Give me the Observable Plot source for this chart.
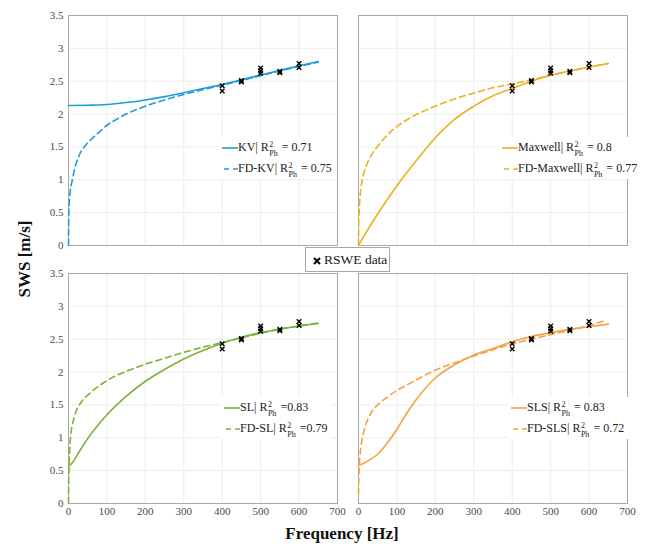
<!DOCTYPE html>
<html>
<head>
<meta charset="utf-8">
<script src="https://cdn.jsdelivr.net/npm/d3@7"></script>
<script src="https://cdn.jsdelivr.net/npm/@observablehq/plot@0.6"></script>
<style>
  body { margin: 0; background: #fff; }
  #wrap { position: relative; width: 645px; height: 544px; font-family: "Liberation Serif", "Times New Roman", serif; }
  .leg { position: absolute; background: #fff; font-family: "Liberation Serif", serif; font-size: 12px; color: #222; line-height: 21px; padding: 0 4px 0 3px; }
  .row { white-space: nowrap; height: 21px; }
  .row svg { vertical-align: middle; }
  .ss { display: inline-block; font-size: 8px; line-height: 9.5px; vertical-align: -5.5px; margin-left: 0.5px; margin-right: 1px; }
  .ss span { display: block; }
  #rswe { position: absolute; left: 305px; top: 247px; width: 85px; height: 25px; border: 1px solid #a8a8a8; background: #fff;
          font-family: "Liberation Serif", serif; font-size: 13.5px; color: #1a1a1a; line-height: 23px; box-sizing: border-box; white-space: nowrap; }
  #rswe svg { vertical-align: middle; margin: 0 3px 0 7px; }
</style>
</head>
<body>
<div id="wrap"></div>
<script>
// ---------------- data ----------------
const xTicks = [0, 100, 200, 300, 400, 500, 600, 700];
const yTicks = [0, 0.5, 1, 1.5, 2, 2.5, 3, 3.5];
const gridX = [100, 200, 300, 400, 500, 600];
const gridY = [0.5, 1, 1.5, 2, 2.5, 3];

// RSWE measurements
const rsweF = [400, 400, 450, 450, 500, 500, 500, 550, 550, 600, 600];
const rsweV = [2.35, 2.43, 2.49, 2.51, 2.62, 2.66, 2.70, 2.63, 2.65, 2.71, 2.77];

// KV (top-left)
const kvF = [0, 50, 100, 150, 200, 250, 300, 350, 400, 450, 500, 550, 600, 650];
const kvV = [2.13, 2.135, 2.145, 2.175, 2.215, 2.265, 2.325, 2.39, 2.45, 2.52, 2.595, 2.665, 2.735, 2.80];
const fdkvF = [0, 0.5, 1, 2, 4, 7, 10, 15, 20, 25, 30, 40, 50, 60, 75, 100, 125, 150, 200, 250, 300, 350, 400, 450, 500, 550, 600, 650];
const fdkvV = [0, 0.4, 0.52, 0.65, 0.8, 0.92, 1.0, 1.14, 1.25, 1.33, 1.40, 1.49, 1.56, 1.62, 1.70, 1.83, 1.92, 2.0, 2.12, 2.215, 2.30, 2.37, 2.44, 2.51, 2.585, 2.655, 2.725, 2.79];

// Maxwell (top-right)
const mxF = [0, 25, 50, 75, 100, 150, 200, 250, 300, 350, 400, 450, 500, 550, 600, 650];
const mxV = [0, 0.25, 0.48, 0.70, 0.91, 1.29, 1.64, 1.92, 2.12, 2.28, 2.39, 2.50, 2.59, 2.655, 2.715, 2.77];
const fdmxF = [0, 0.5, 1, 3, 6, 10, 15, 20, 25, 35, 50, 75, 100, 125, 150, 200, 250, 300, 350, 400, 450, 500, 550, 600, 650];
const fdmxV = [0, 0.3, 0.4, 0.66, 0.86, 1.0, 1.12, 1.21, 1.28, 1.39, 1.51, 1.68, 1.81, 1.91, 1.99, 2.12, 2.23, 2.32, 2.40, 2.46, 2.52, 2.59, 2.655, 2.715, 2.77];

// SL (bottom-left)
const slF = [0, 5, 10, 25, 50, 75, 100, 150, 200, 250, 300, 350, 400, 450, 500, 550, 600, 650];
const slV = [0.57, 0.59, 0.62, 0.76, 0.99, 1.18, 1.35, 1.63, 1.86, 2.04, 2.20, 2.33, 2.44, 2.53, 2.60, 2.655, 2.70, 2.74];
const fdslF = [0, 0.5, 1, 3, 6, 10, 15, 20, 25, 35, 50, 75, 100, 125, 150, 200, 250, 300, 350, 400, 450, 500, 550, 600, 650];
const fdslV = [0, 0.32, 0.45, 0.8, 1.05, 1.2, 1.32, 1.41, 1.47, 1.56, 1.65, 1.77, 1.87, 1.95, 2.01, 2.12, 2.21, 2.30, 2.38, 2.45, 2.52, 2.59, 2.65, 2.70, 2.75];

// SLS (bottom-right)
const slsF = [0, 10, 25, 50, 75, 100, 125, 150, 200, 250, 300, 350, 400, 450, 500, 550, 600, 650];
const slsV = [0.58, 0.60, 0.65, 0.75, 0.92, 1.13, 1.37, 1.58, 1.91, 2.11, 2.26, 2.36, 2.46, 2.54, 2.60, 2.65, 2.69, 2.73];
const fdslsF = [0, 1, 3, 6, 10, 15, 20, 25, 35, 50, 75, 100, 125, 150, 200, 250, 300, 350, 400, 450, 500, 550, 600, 640];
const fdslsV = [0.14, 0.4, 0.65, 0.85, 1.0, 1.12, 1.22, 1.29, 1.40, 1.50, 1.62, 1.72, 1.80, 1.88, 2.03, 2.14, 2.245, 2.34, 2.43, 2.50, 2.57, 2.635, 2.71, 2.78];

const colors = { KV: "#1f9cd8", Maxwell: "#edb120", SL: "#7ab33c", SLS: "#f6a146" };

const series = [
  { name: "KV", model: "KV", col: "L", row: "T", dash: false, f: kvF, v: kvV, r2: "0.71", eq: " = " },
  { name: "FD-KV", model: "KV", col: "L", row: "T", dash: true, f: fdkvF, v: fdkvV, r2: "0.75", eq: " = " },
  { name: "Maxwell", model: "Maxwell", col: "R", row: "T", dash: false, f: mxF, v: mxV, r2: "0.8", eq: " = " },
  { name: "FD-Maxwell", model: "Maxwell", col: "R", row: "T", dash: true, f: fdmxF, v: fdmxV, r2: "0.77", eq: " = " },
  { name: "SL", model: "SL", col: "L", row: "B", dash: false, f: slF, v: slV, r2: "0.83", eq: " =" },
  { name: "FD-SL", model: "SL", col: "L", row: "B", dash: true, f: fdslF, v: fdslV, r2: "0.79", eq: " =" },
  { name: "SLS", model: "SLS", col: "R", row: "B", dash: false, f: slsF, v: slsV, r2: "0.83", eq: " = " },
  { name: "FD-SLS", model: "SLS", col: "R", row: "B", dash: true, f: fdslsF, v: fdslsV, r2: "0.72", eq: " = " }
];

const rows = series.flatMap(s => s.f.map((f, i) => ({ f, v: s.v[i], name: s.name, col: s.col, row: s.row, color: colors[s.model], dash: s.dash })));
const rswe = rsweF.map((f, i) => ({ f, v: rsweV[i] }));

const SERIF = '"Liberation Serif", "Times New Roman", serif';

// ---------------- plot ----------------
const chart = Plot.plot({
  width: 645,
  height: 544,
  marginLeft: 68,
  marginRight: 17,
  marginTop: 14,
  marginBottom: 40,
  style: { fontFamily: SERIF, fontSize: "11px", color: "#4a4a4a", background: "transparent" },
  fx: { domain: ["L", "R"], axis: null, paddingInner: 0.0723, paddingOuter: 0 },
  fy: { domain: ["T", "B"], axis: null, paddingInner: 0.108, paddingOuter: 0 },
  x: { domain: [0, 700], ticks: xTicks, tickSize: 0, tickPadding: 4, label: null, tickFormat: d => String(d) },
  y: { domain: [0, 3.5], ticks: yTicks, tickSize: 0, tickPadding: 5, label: null, tickFormat: d => String(d) },
  color: { type: "identity" },
  marks: [
    Plot.ruleX(gridX, { stroke: "#ececec", strokeWidth: 1 }),
    Plot.ruleY(gridY, { stroke: "#ececec", strokeWidth: 1 }),
    Plot.frame({ stroke: "#a9a9a9", strokeWidth: 1 }),
    Plot.lineY(rows.filter(d => !d.dash), { x: "f", y: "v", fx: "col", fy: "row", z: "name", stroke: "color", strokeWidth: 1.6, curve: "monotone-x" }),
    Plot.lineY(rows.filter(d => d.dash), { x: "f", y: "v", fx: "col", fy: "row", z: "name", stroke: "color", strokeWidth: 1.6, strokeDasharray: "6,4", curve: "monotone-x" }),
    Plot.dot(rswe, { x: "f", y: "v", symbol: "times", r: 2.2, stroke: "#000", strokeWidth: 1.4 })
  ]
});

const wrap = document.getElementById("wrap");
wrap.appendChild(chart);

const svg = d3.select(chart);
svg.selectAll("text").style("font-family", SERIF);

// axis titles
svg.append("text")
  .attr("x", 342).attr("y", 539)
  .attr("text-anchor", "middle")
  .style("font-family", SERIF).attr("font-weight", "bold").attr("font-size", 17)
  .attr("fill", "#111")
  .text("Frequency [Hz]");
svg.append("text")
  .attr("transform", "translate(30,259) rotate(-90)")
  .attr("text-anchor", "middle")
  .style("font-family", SERIF).attr("font-weight", "bold").attr("font-size", 17)
  .attr("fill", "#111")
  .text("SWS [m/s]");

// in-panel legends
const legendPos = {
  KV: { left: 222, top: 136.5 },
  Maxwell: { left: 502, top: 136.5 },
  SL: { left: 224, top: 396.5 },
  SLS: { left: 511, top: 396.5 }
};
function swatch(color, dash) {
  return `<svg width="16" height="6"><line x1="0" y1="3" x2="16" y2="3" stroke="${color}" stroke-width="1.6" ${dash ? 'stroke-dasharray="5,4" stroke-dashoffset="-2"' : ""}/></svg>`;
}
for (const model of Object.keys(legendPos)) {
  const div = document.createElement("div");
  div.className = "leg";
  div.style.left = (legendPos[model].left - 3) + "px";
  div.style.top = legendPos[model].top + "px";
  div.innerHTML = series.filter(s => s.model === model).map(s =>
    `<div class="row">${swatch(colors[model], s.dash)}${s.name}| R<span class="ss"><span>2</span><span>Ph</span></span>${s.eq}${s.r2}</div>`
  ).join("");
  wrap.appendChild(div);
}

// RSWE data legend
const box = document.createElement("div");
box.id = "rswe";
box.innerHTML = `<svg width="8" height="8"><path d="M1,1L7,7M7,1L1,7" stroke="#000" stroke-width="2"/></svg>RSWE data`;
wrap.appendChild(box);
</script>
</body>
</html>
